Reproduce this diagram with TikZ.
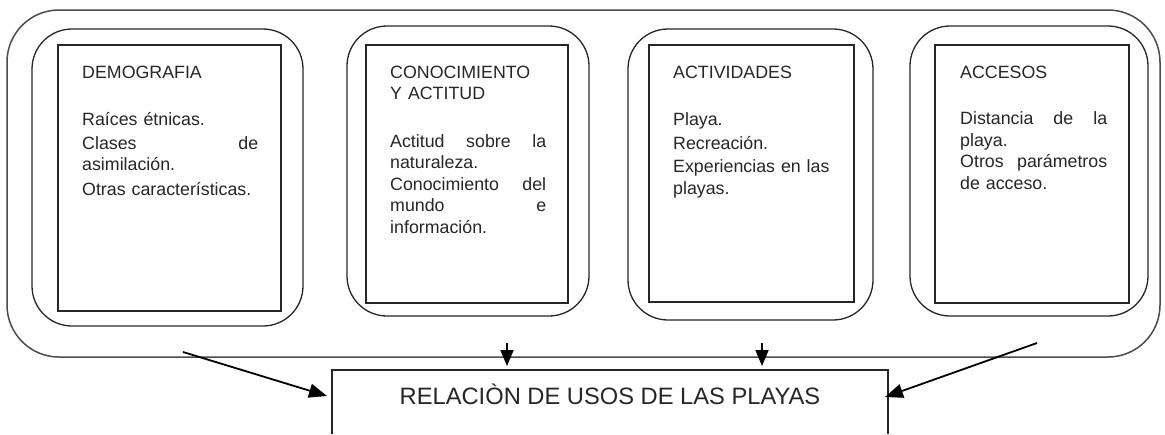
\documentclass[tikz,border=0pt]{standalone}
\usepackage{fontspec}
\setmainfont{Liberation Sans}
\usetikzlibrary{arrows.meta}
\begin{document}
\begin{tikzpicture}[x=1pt,y=-1pt,
  outer/.style={draw=black!70,line width=1.5pt,rounded corners=52pt,inner sep=0pt,outer sep=0pt,anchor=north west},
  group/.style={draw=black!85,line width=1.3pt,rounded corners=40pt,inner sep=0pt,outer sep=0pt,anchor=north west},
  card/.style={draw=black!85,line width=1.2pt,inner sep=0pt,outer sep=0pt,anchor=north west},
  txt/.style={anchor=base west,inner sep=0pt,align=left,font=\fontsize{17.8}{21.5}\selectfont,text=black!85},
  arr/.style={line width=1.8pt,-{Triangle[length=18pt,width=14pt]}},
  arrv/.style={line width=1.8pt,-{Triangle[length=16pt,width=13pt]}}]
\useasboundingbox (0,0) rectangle (1165,434);
% outer frame
\node[outer,minimum width=1153pt,minimum height=347pt] (frame) at (7,10) {};
% groups
\node[group,minimum width=271pt,minimum height=297pt] (g1) at (32,29) {};
\node[group,minimum width=242pt,minimum height=290pt] (g2) at (347,26) {};
\node[group,minimum width=245pt,minimum height=291pt] (g3) at (628,29) {};
\node[group,minimum width=238pt,minimum height=290pt] (g4) at (910,26) {};
% cards
\node[card,minimum width=223pt,minimum height=266pt] (c1) at (58,45) {};
\node[card,minimum width=202pt,minimum height=258pt] (c2) at (366,45) {};
\node[card,minimum width=205pt,minimum height=257pt] (c3) at (649,45) {};
\node[card,minimum width=194pt,minimum height=258pt] (c4) at (935,45) {};
% texts
\node[txt,text width=176pt] (t1) at (82,78) {DEMOGRAFIA\\[26pt]
Raíces étnicas.\\[2pt]
Clases\hfill de\\
asimilación.\\[3pt]
Otras características.};
\node[txt,text width=156pt] (t2) at (390,78) {CONOCIMIENTO\\
Y ACTITUD\\[26pt]
Actitud\hfill sobre\hfill la\\
naturaleza.\\
Conocimiento\hfill del\\
mundo\hfill e\\
información.};
\node[txt,text width=160pt] (t3) at (673,78) {ACTIVIDADES\\[26pt]
Playa.\\[2pt]
Recreación.\\[2pt]
Experiencias en las\\
playas.};
\node[txt,text width=147pt] (t4) at (960,78) {ACCESOS\\[25pt]
Distancia\hfill de\hfill la\\
playa.\\
Otros\hfill parámetros\\
de acceso.};
% result box
\node[inner sep=0pt,outer sep=0pt,anchor=north,minimum width=556pt,minimum height=64pt,
  text height=17pt,text depth=12pt,font=\fontsize{23.7}{28}\selectfont,text=black!85]
  (rel) at (610,370) {RELACIÒN DE USOS DE LAS PLAYAS};
\draw[black!85,line width=1.2pt] (rel.south west) -- (rel.north west) -- (rel.north east) -- (rel.south east);
% arrows
\coordinate (s1) at (183,352);
\coordinate (s2) at (507,343);
\coordinate (s3) at (762,343);
\coordinate (s4) at (1037,343);
\draw[arr] (s1) -- ([shift={(-5,-6)}]rel.west);
\draw[arr] (s4) -- ([shift={(-3,-5)}]rel.east);
\draw[arrv,shorten >=4pt] (s2) -- (s2 |- rel.north);
\draw[arrv,shorten >=4pt] (s3) -- (s3 |- rel.north);
\end{tikzpicture}
\end{document}
